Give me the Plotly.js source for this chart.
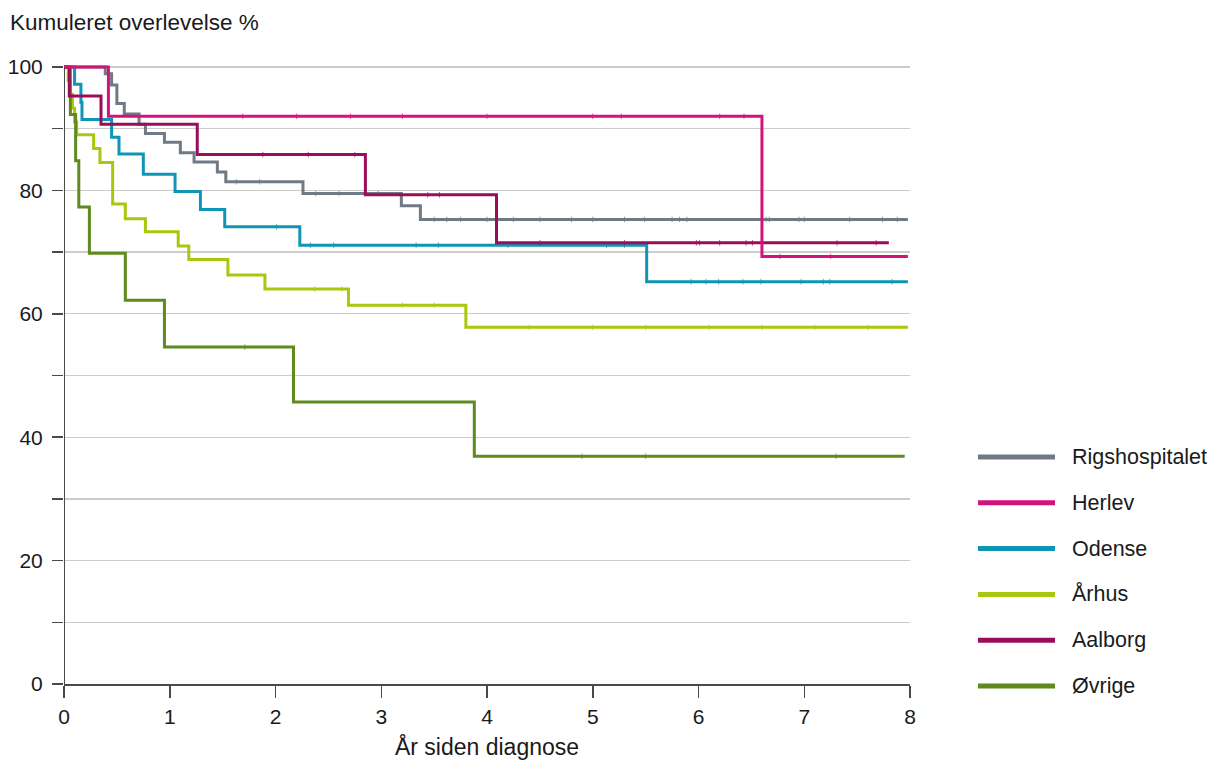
<!DOCTYPE html>
<html>
<head>
<meta charset="utf-8">
<script src="https://cdn.plot.ly/plotly-3.0.1.min.js"></script>
<style>
  html, body { margin: 0; padding: 0; background: #ffffff; }
  #chart { width: 1211px; height: 760px; }
</style>
</head>
<body>
<div id="chart"></div>
<script>
// Kaplan–Meier survival per hospital: step times (years) and cumulative survival (%)
const seriesNames = ['Rigshospitalet', 'Herlev', 'Odense', 'Århus', 'Aalborg', 'Øvrige'];

const rigsTime = [0, 0.39, 0.45, 0.50, 0.57, 0.71, 0.77, 0.95, 1.10, 1.23, 1.45, 1.53, 2.26, 3.19, 3.37, 7.98];
const rigsSurv = [100, 98.9, 97.1, 94.1, 92.4, 90.7, 89.2, 87.8, 86.1, 84.6, 83.0, 81.4, 79.5, 77.5, 75.3, 75.3];
const rigsCensor = [1.63, 1.85, 2.38, 2.60, 2.85, 2.97, 3.50, 3.62, 3.75, 4.00, 4.25, 4.50, 4.80, 5.00, 5.30, 5.49, 5.75, 5.82, 5.89, 6.64, 6.67, 6.95, 7.00, 7.43, 7.74, 7.88];

const herlevTime = [0, 0.42, 6.60, 7.98];
const herlevSurv = [100, 92.0, 69.3, 69.3];
const herlevCensor = [1.69, 2.20, 2.71, 3.20, 4.00, 5.00, 5.27, 6.20, 6.43, 6.77, 7.25];

const odenseTime = [0, 0.10, 0.16, 0.17, 0.45, 0.52, 0.75, 1.05, 1.29, 1.52, 2.23, 5.51, 7.98];
const odenseSurv = [100, 97.2, 94.3, 91.5, 88.6, 85.9, 82.6, 79.8, 76.9, 74.1, 71.1, 65.2, 65.2];
const odenseCensor = [2.01, 2.33, 2.55, 3.33, 3.54, 4.20, 5.13, 5.30, 5.93, 6.07, 6.19, 6.42, 6.59, 6.97, 7.18, 7.24, 7.83];

const arhusTime = [0, 0.04, 0.06, 0.08, 0.10, 0.12, 0.28, 0.34, 0.46, 0.58, 0.77, 1.08, 1.18, 1.55, 1.90, 2.69, 3.80, 7.98];
const arhusSurv = [100, 97.8, 95.6, 93.3, 91.1, 89.0, 86.8, 84.5, 77.8, 75.4, 73.3, 71.0, 68.8, 66.3, 64.0, 61.4, 57.8, 57.8];
const arhusCensor = [2.37, 2.63, 3.20, 3.50, 4.40, 5.00, 5.50, 6.10, 6.60, 7.10, 7.60];

const aalborgTime = [0, 0.05, 0.35, 1.26, 2.85, 4.09, 7.80];
const aalborgSurv = [100, 95.3, 90.7, 85.8, 79.3, 71.5, 71.5];
const aalborgCensor = [1.88, 2.31, 2.75, 3.44, 3.55, 4.50, 5.30, 5.98, 6.01, 6.20, 6.45, 6.51, 7.31, 7.68];

const ovrigeTime = [0, 0.06, 0.11, 0.14, 0.24, 0.58, 0.95, 2.17, 3.88, 7.95];
const ovrigeSurv = [100, 92.3, 84.8, 77.3, 69.8, 62.2, 54.6, 45.7, 36.9, 36.9];
const ovrigeCensor = [1.71, 4.90, 5.50, 7.30];

const seriesColors = ['#6e7a86', '#d5127b', '#0f95b6', '#a9c70c', '#9a0c5c', '#5f8a1d'];

const yTickVals = [0, 10, 20, 30, 40, 50, 60, 70, 80, 90, 100];
const yTickText = ['0', '', '20', '', '40', '', '60', '', '80', '', '100'];
const xTickVals = [0, 1, 2, 3, 4, 5, 6, 7, 8];

const series = [
  { name: seriesNames[0], t: rigsTime, s: rigsSurv, c: rigsCensor, color: seriesColors[0] },
  { name: seriesNames[1], t: herlevTime, s: herlevSurv, c: herlevCensor, color: seriesColors[1] },
  { name: seriesNames[2], t: odenseTime, s: odenseSurv, c: odenseCensor, color: seriesColors[2] },
  { name: seriesNames[3], t: arhusTime, s: arhusSurv, c: arhusCensor, color: seriesColors[3] },
  { name: seriesNames[4], t: aalborgTime, s: aalborgSurv, c: aalborgCensor, color: seriesColors[4] },
  { name: seriesNames[5], t: ovrigeTime, s: ovrigeSurv, c: ovrigeCensor, color: seriesColors[5] }
];

// survival level of a step curve at time t
function survivalAt(times, surv, t) {
  let v = surv[0];
  for (let i = 0; i < times.length; i++) {
    if (times[i] <= t) v = surv[i];
  }
  return v;
}

// draw order: the pink and dark-magenta curves sit on top
const drawOrder = [0, 2, 3, 5, 4, 1];
const traces = [];
drawOrder.forEach(function (k) {
  const d = series[k];
  traces.push({
    type: 'scatter', mode: 'lines', name: d.name,
    x: d.t, y: d.s,
    line: { shape: 'hv', color: d.color, width: 3 },
    hoverinfo: 'skip', showlegend: false
  });
  // censored observations as faint tick marks on the curve
  traces.push({
    type: 'scatter', mode: 'markers', name: d.name + ' (censureret)',
    x: d.c, y: d.c.map(function (t) { return survivalAt(d.t, d.s, t); }),
    marker: { symbol: 'line-ns-open', size: 4, color: d.color, opacity: 0.7,
              line: { color: d.color, width: 1 } },
    hoverinfo: 'skip', showlegend: false
  });
});

// plot-area geometry used to place the hand-built legend
const M = { l: 64, r: 301, t: 61, b: 76 };
const W = 1211, H = 760;
const plotW = W - M.l - M.r, plotH = H - M.t - M.b;
const px2paperX = function (px) { return (px - M.l) / plotW; };
const px2paperY = function (py) { return (H - M.b - py) / plotH; };

const FONT = 'Liberation Sans, Arial, sans-serif';
const legendTop = 457, legendStep = 45.8;
const shapes = [
  // y axis line from 0 to 100
  { type: 'line', xref: 'x', yref: 'y', x0: 0, x1: 0, y0: 0, y1: 100,
    line: { color: '#4a4a4a', width: 2 }, layer: 'above' }
];
const annotations = [];
series.forEach(function (d, i) {
  const py = legendTop + i * legendStep;
  shapes.push({
    type: 'line', xref: 'paper', yref: 'paper',
    x0: px2paperX(978), x1: px2paperX(1055), y0: px2paperY(py), y1: px2paperY(py),
    line: { color: d.color, width: 5 }
  });
  annotations.push({
    xref: 'paper', yref: 'paper', x: px2paperX(1070), y: px2paperY(py),
    xanchor: 'left', yanchor: 'middle', showarrow: false,
    text: d.name, font: { family: FONT, size: 21.5, color: '#1a1a1a' }
  });
});

const layout = {
  width: W, height: H,
  margin: M,
  paper_bgcolor: '#ffffff', plot_bgcolor: '#ffffff',
  font: { family: FONT, color: '#1a1a1a', size: 21 },
  title: {
    text: 'Kumuleret overlevelse %',
    xref: 'container', yref: 'container',
    x: 10 / W, xanchor: 'left', y: 1 - 22 / H, yanchor: 'middle',
    font: { family: FONT, size: 22.5, color: '#1a1a1a' }
  },
  xaxis: {
    range: [0, 8], tickvals: xTickVals, ticks: 'outside', ticklen: 12, tickwidth: 1.5,
    tickcolor: '#4a4a4a', showline: true, linecolor: '#4a4a4a', linewidth: 2,
    showgrid: false, zeroline: false, ticklabelstandoff: 1,
    tickfont: { size: 21, color: '#1a1a1a' },
    title: { text: 'År siden diagnose', standoff: 12,
             font: { family: FONT, size: 23, color: '#1a1a1a' } }
  },
  yaxis: {
    range: [0, 100.97], tickvals: yTickVals, ticktext: yTickText,
    ticks: 'outside', ticklen: 11, tickwidth: 1.5, tickcolor: '#4a4a4a',
    showline: false, showgrid: true, gridcolor: '#cccccc', gridwidth: 1.3,
    zeroline: false, ticklabelstandoff: 5,
    tickfont: { size: 21, color: '#1a1a1a' }
  },
  shapes: shapes,
  annotations: annotations,
  showlegend: false
};

Plotly.newPlot('chart', traces, layout, { staticPlot: true, displayModeBar: false });
</script>
</body>
</html>
